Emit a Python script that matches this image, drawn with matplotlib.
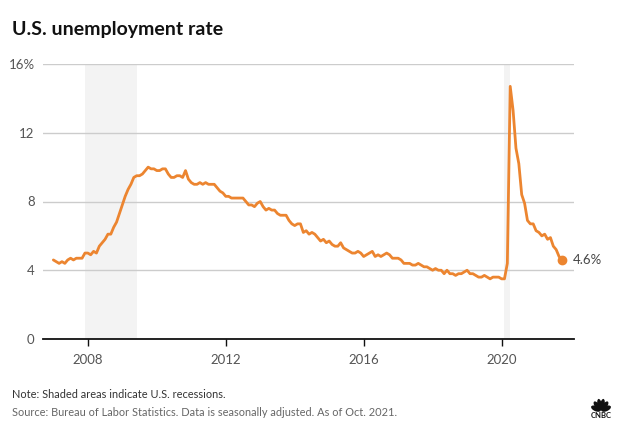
import numpy as np
import matplotlib.pyplot as plt
from matplotlib.patches import Ellipse

# monthly U.S. unemployment rate, Jan 2007 - Oct 2021 (%)
rate_2007 = [4.6, 4.5, 4.4, 4.5, 4.4, 4.6, 4.7, 4.6, 4.7, 4.7, 4.7, 5.0]
rate_2008 = [5.0, 4.9, 5.1, 5.0, 5.4, 5.6, 5.8, 6.1, 6.1, 6.5, 6.8, 7.3]
rate_2009 = [7.8, 8.3, 8.7, 9.0, 9.4, 9.5, 9.5, 9.6, 9.8, 10.0, 9.9, 9.9]
rate_2010 = [9.8, 9.8, 9.9, 9.9, 9.6, 9.4, 9.4, 9.5, 9.5, 9.4, 9.8, 9.3]
rate_2011 = [9.1, 9.0, 9.0, 9.1, 9.0, 9.1, 9.0, 9.0, 9.0, 8.8, 8.6, 8.5]
rate_2012 = [8.3, 8.3, 8.2, 8.2, 8.2, 8.2, 8.2, 8.0, 7.8, 7.8, 7.7, 7.9]
rate_2013 = [8.0, 7.7, 7.5, 7.6, 7.5, 7.5, 7.3, 7.2, 7.2, 7.2, 6.9, 6.7]
rate_2014 = [6.6, 6.7, 6.7, 6.2, 6.3, 6.1, 6.2, 6.1, 5.9, 5.7, 5.8, 5.6]
rate_2015 = [5.7, 5.5, 5.4, 5.4, 5.6, 5.3, 5.2, 5.1, 5.0, 5.0, 5.1, 5.0]
rate_2016 = [4.8, 4.9, 5.0, 5.1, 4.8, 4.9, 4.8, 4.9, 5.0, 4.9, 4.7, 4.7]
rate_2017 = [4.7, 4.6, 4.4, 4.4, 4.4, 4.3, 4.3, 4.4, 4.3, 4.2, 4.2, 4.1]
rate_2018 = [4.0, 4.1, 4.0, 4.0, 3.8, 4.0, 3.8, 3.8, 3.7, 3.8, 3.8, 3.9]
rate_2019 = [4.0, 3.8, 3.8, 3.7, 3.6, 3.6, 3.7, 3.6, 3.5, 3.6, 3.6, 3.6]
rate_2020 = [3.5, 3.5, 4.4, 14.7, 13.3, 11.1, 10.2, 8.4, 7.9, 6.9, 6.7, 6.7]
rate_2021 = [6.3, 6.2, 6.0, 6.1, 5.8, 5.9, 5.4, 5.2, 4.8, 4.6]

# recessions as (start, end) in decimal years
recessions = [(2007 + 11 / 12, 2009 + 5 / 12), (2020 + 1 / 12, 2020 + 3 / 12)]

year_ticks = [2008, 2012, 2016, 2020]
y_ticks = [0, 4, 8, 12, 16]
y_labels = ['0', '4', '8', '12', '16%']

rate = np.array(rate_2007 + rate_2008 + rate_2009 + rate_2010 + rate_2011 + rate_2012
                + rate_2013 + rate_2014 + rate_2015 + rate_2016 + rate_2017 + rate_2018
                + rate_2019 + rate_2020 + rate_2021)
t = 2007 + np.arange(len(rate)) / 12

plt.rcParams['font.family'] = ['Lato', 'DejaVu Sans']
orange = '#ec8530'

fig = plt.figure(figsize=(6.23, 4.34), dpi=100)
ax = fig.add_axes([43 / 623, 1 - 339 / 434, (574 - 43) / 623, (339 - 64) / 434])

for s, e in recessions:
    ax.axvspan(s, e, color='#f3f3f3', zorder=0, lw=0)

ax.plot(t, rate, color=orange, lw=2.0, solid_capstyle='round', solid_joinstyle='round', zorder=3)
ax.plot(t[-1], rate[-1], 'o', color=orange, ms=6, zorder=4)
ax.annotate(f'{rate[-1]:.1f}%', (t[-1], rate[-1]), xytext=(8, 0), textcoords='offset points',
            va='center', ha='left', fontsize=9.5, color='#444444')

ax.set_xlim(2006.7, 2022.1)
ax.set_ylim(0, 16)
ax.set_yticks(y_ticks)
ax.set_yticklabels(y_labels)
ax.set_xticks(year_ticks)
ax.set_xticklabels([str(y) for y in year_ticks])
ax.grid(axis='y', color='#cccccc', lw=1)
ax.set_axisbelow(True)

for side in ['top', 'right', 'left']:
    ax.spines[side].set_visible(False)
ax.spines['bottom'].set_color('#111111')
ax.spines['bottom'].set_linewidth(1.3)
ax.spines['bottom'].set_zorder(5)

ax.tick_params(axis='y', length=0, pad=6, labelsize=9.5, labelcolor='#555555')
ax.tick_params(axis='x', length=5, width=1, color='#111111', pad=6, labelsize=9.5, labelcolor='#555555')

fig.text(12 / 623, 1 - 30 / 434, 'U.S. unemployment rate', fontsize=14, fontweight='bold',
         color='#111111', va='center')
fig.text(12 / 623, 1 - 395 / 434, 'Note: Shaded areas indicate U.S. recessions.',
         fontsize=7.9, color='#333333', va='center')
fig.text(12 / 623, 1 - 412 / 434, 'Source: Bureau of Labor Statistics. Data is seasonally adjusted. As of Oct. 2021.',
         fontsize=7.9, color='#666666', va='center')

# small peacock-style logo
logo = fig.add_axes([590 / 623, 1 - 412 / 434, 22 / 623, 14 / 434])
logo.set_xlim(-1.1, 1.1)
logo.set_ylim(-0.1, 1.1)
logo.axis('off')
for ang in np.linspace(20, 160, 6):
    a = np.deg2rad(ang)
    logo.add_patch(Ellipse((0.55 * np.cos(a), 0.55 * np.sin(a)), 0.45, 1.0,
                           angle=ang - 90, color='#111111', lw=0))
fig.text(601 / 623, 1 - 416 / 434, 'CNBC', fontsize=5.5, fontweight='bold', color='#111111',
         ha='center', va='center')

fig.savefig('out.png', dpi=100)
